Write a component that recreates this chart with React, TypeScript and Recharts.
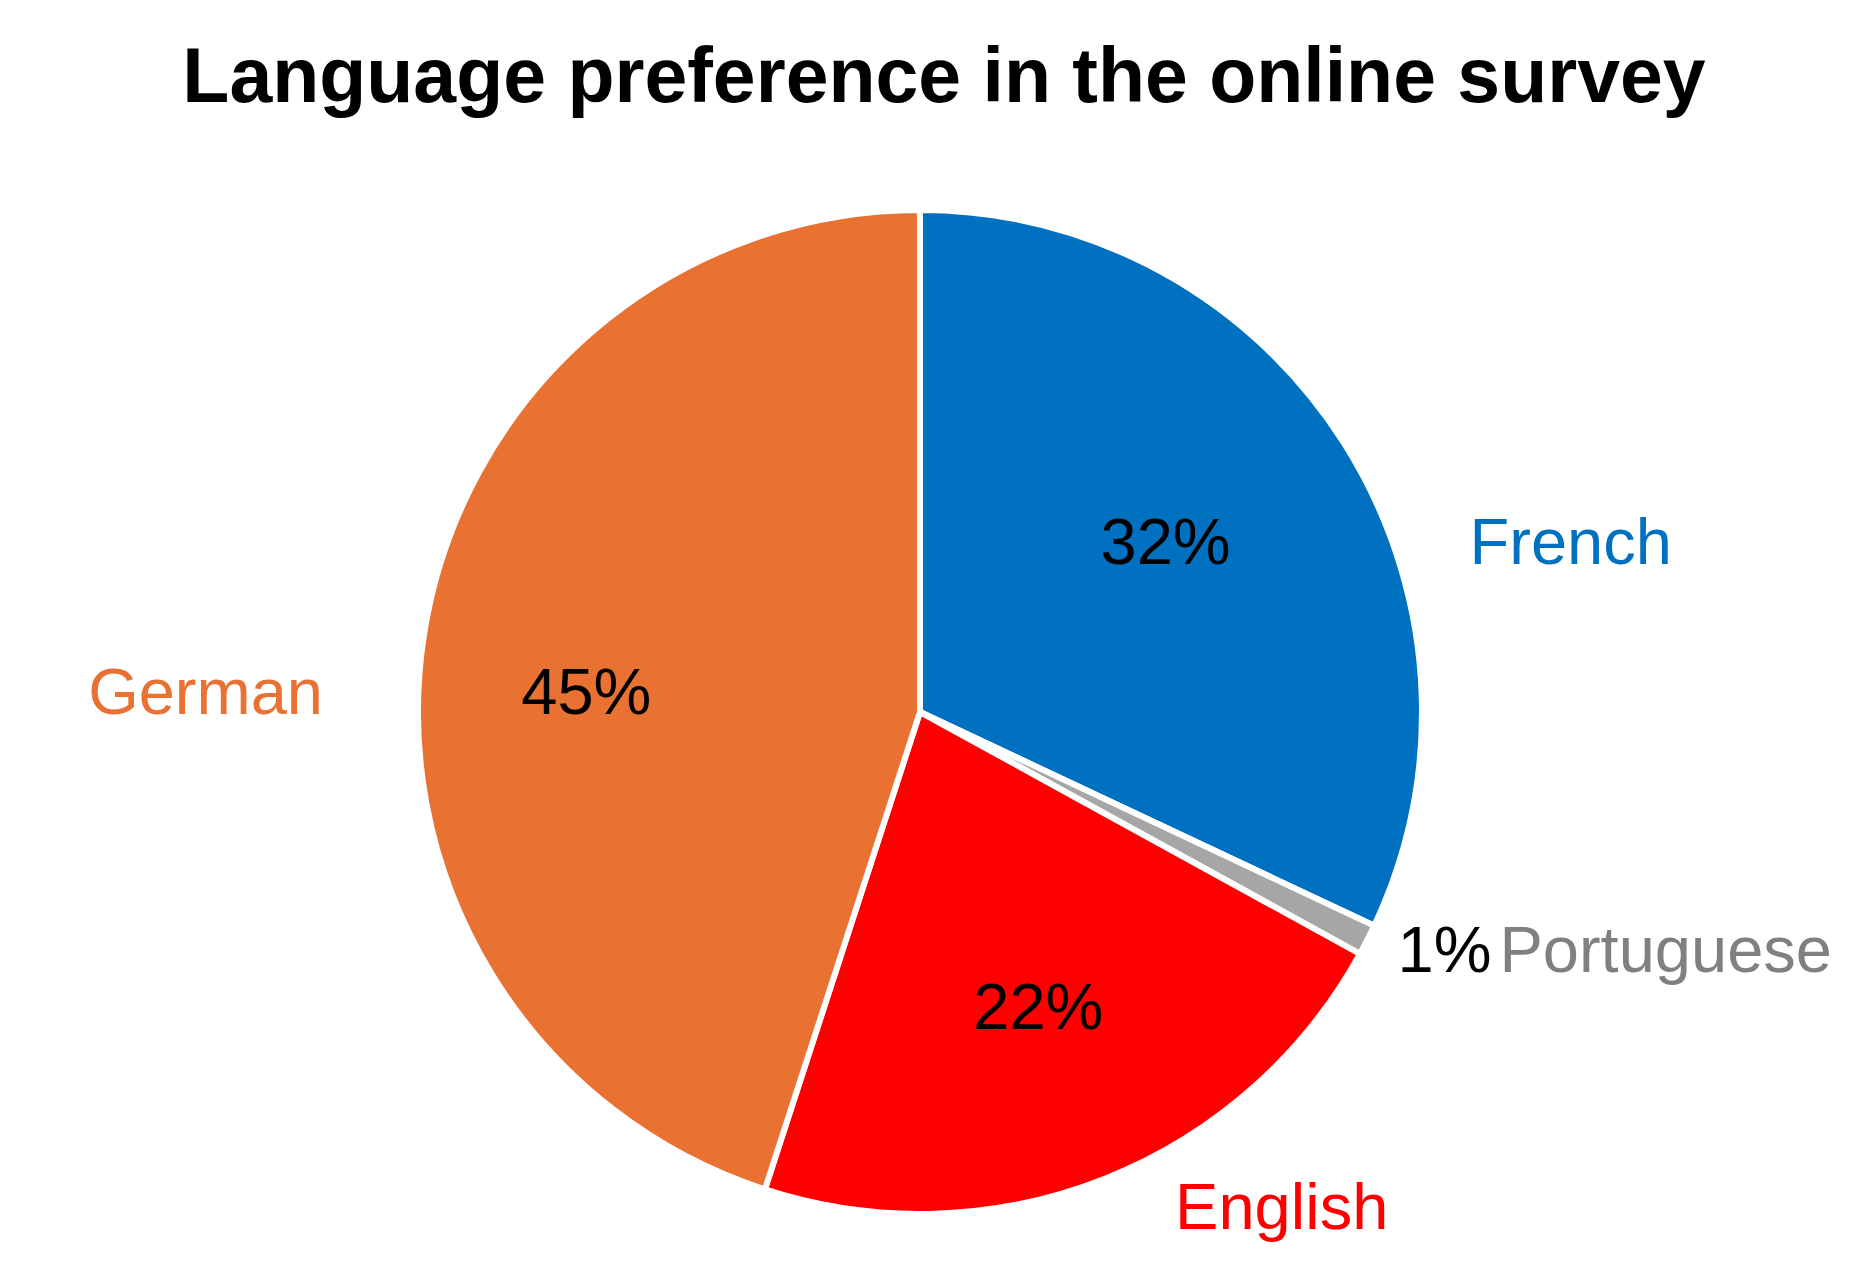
import { PieChart, Pie, Cell } from 'recharts';

const languages = ['French', 'Portuguese', 'English', 'German'];
const shares = [32, 1, 22, 45];
const sliceColors = ['#0070C0', '#A6A6A6', '#FF0000', '#E97132'];
const nameColors = ['#0070C0', '#808080', '#FF0000', '#E97132'];

// label spots as polar offsets from the pie centre (angle in degrees, radius in units of outerRadius)
const percentPlacement = [
  { angle: 34.7, r: 0.595 },
  { angle: -26.4, r: 1.062 },
  { angle: -68.1, r: 0.632 },
  { angle: 176.5, r: 0.666 },
];
const namePlacement = [
  { angle: 17.2, r: 1.146, anchor: 'start' },
  { angle: 0, r: 0, anchor: 'inline' },
  { angle: -53.8, r: 1.22, anchor: 'middle' },
  { angle: 178, r: 1.19, anchor: 'end' },
];

const data = languages.map((name, i) => ({ name, value: shares[i] }));

const RAD = Math.PI / 180;
const FONT = '"Liberation Sans", Arial, sans-serif';
const LABEL_SIZE = 65;

function polar(cx: number, cy: number, r: number, angle: number) {
  return { x: cx + r * Math.cos(angle * RAD), y: cy - r * Math.sin(angle * RAD) };
}

function renderLabel(props: any) {
  const { cx, cy, outerRadius, index, value } = props;
  const pp = percentPlacement[index];
  const place = namePlacement[index];
  const p = polar(cx, cy, outerRadius * pp.r, pp.angle);

  if (place.anchor === 'inline') {
    return (
      <text x={p.x} y={p.y} textAnchor="start" dominantBaseline="central" fontFamily={FONT} fontSize={LABEL_SIZE}>
        <tspan fill="#000000">{`${value}%`}</tspan>
        <tspan fill={nameColors[index]} dx={8}>{languages[index]}</tspan>
      </text>
    );
  }

  const n = polar(cx, cy, outerRadius * place.r, place.angle);

  return (
    <g>
      <text x={p.x} y={p.y} textAnchor="middle" dominantBaseline="central" fontFamily={FONT} fontSize={LABEL_SIZE} fill="#000000">
        {`${value}%`}
      </text>
      <text x={n.x} y={n.y} textAnchor={place.anchor} dominantBaseline="central" fontFamily={FONT} fontSize={LABEL_SIZE} fill={nameColors[index]}>
        {languages[index]}
      </text>
    </g>
  );
}

export default function App() {
  return (
    <div style={{ position: 'relative', width: 1852, height: 1270, background: '#ffffff' }}>
      <div
        style={{
          position: 'absolute',
          top: 22,
          left: 0,
          width: 1872,
          textAlign: 'center',
          fontFamily: FONT,
          fontWeight: 700,
          fontSize: 77,
          lineHeight: '90px',
          color: '#000000',
        }}
      >
        Language preference in the online survey
      </div>
      <PieChart width={1852} height={1270}>
        <Pie
          data={data}
          dataKey="value"
          nameKey="name"
          cx={907}
          cy={699}
          outerRadius={502}
          startAngle={90}
          endAngle={-270}
          stroke="#ffffff"
          strokeWidth={6}
          label={renderLabel}
          labelLine={false}
          isAnimationActive={false}
        >
          {data.map((d, i) => (
            <Cell key={d.name} fill={sliceColors[i]} />
          ))}
        </Pie>
      </PieChart>
    </div>
  );
}
